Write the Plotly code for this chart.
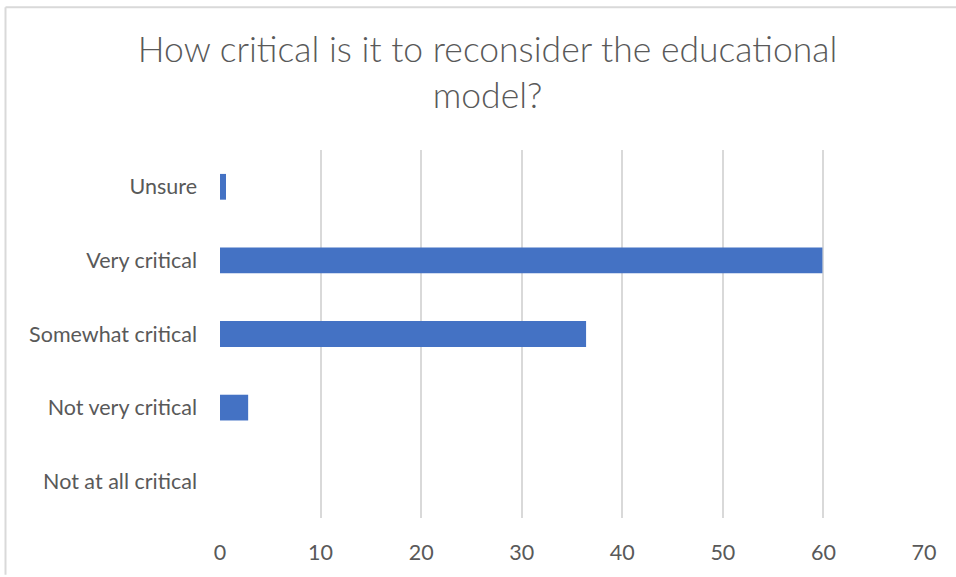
import plotly.graph_objects as go

# Survey responses (percent of respondents)
categories = ["Not at all critical", "Not very critical", "Somewhat critical", "Very critical", "Unsure"]
values = [0, 2.8, 36.4, 59.9, 0.6]
x_ticks = [0, 10, 20, 30, 40, 50, 60, 70]

font_family = "Lato, 'Open Sans', sans-serif"
text_color = "#595959"
grid_color = "#d9d9d9"

fig = go.Figure(
    go.Bar(
        x=values,
        y=categories,
        orientation="h",
        marker=dict(color="#4472c4", line=dict(width=0)),
        hoverinfo="x+y",
    )
)

fig.update_layout(
    width=956,
    height=577,
    margin=dict(l=220, r=32, t=150, b=57),
    paper_bgcolor="white",
    plot_bgcolor="white",
    bargap=0.65,
    showlegend=False,
    font=dict(family=font_family, color=text_color),
    title=dict(
        text="How critical is it to reconsider the educational<br>model?",
        x=0.51,
        xanchor="center",
        y=1 - 62 / 577,
        yanchor="middle",
        font=dict(size=35.5, color=text_color, family=font_family, weight=300),
    ),
)

fig.update_xaxes(
    range=[0, 70],
    tickvals=x_ticks,
    showgrid=True,
    gridcolor=grid_color,
    gridwidth=2,
    zeroline=False,
    showline=False,
    ticks="",
    tickfont=dict(size=21.5, color=text_color),
    ticklabelstandoff=19,
    fixedrange=True,
)
fig.update_yaxes(
    categoryorder="array",
    categoryarray=categories,
    showgrid=False,
    zeroline=False,
    showline=False,
    ticks="",
    tickfont=dict(size=21.5, color=text_color),
    ticklabelstandoff=22,
    fixedrange=True,
)

# Outer chart-area frame (left and top edges)
fig.add_shape(type="line", xref="paper", yref="paper",
              x0=-214.5 / 704, x1=1 + 32 / 704, y0=1 + 143.5 / 370, y1=1 + 143.5 / 370,
              line=dict(color=grid_color, width=2))
fig.add_shape(type="line", xref="paper", yref="paper",
              x0=-214.5 / 704, x1=-214.5 / 704, y0=-57 / 370, y1=1 + 143.5 / 370,
              line=dict(color=grid_color, width=2))

fig.write_html("out.html", config={"displayModeBar": False})
